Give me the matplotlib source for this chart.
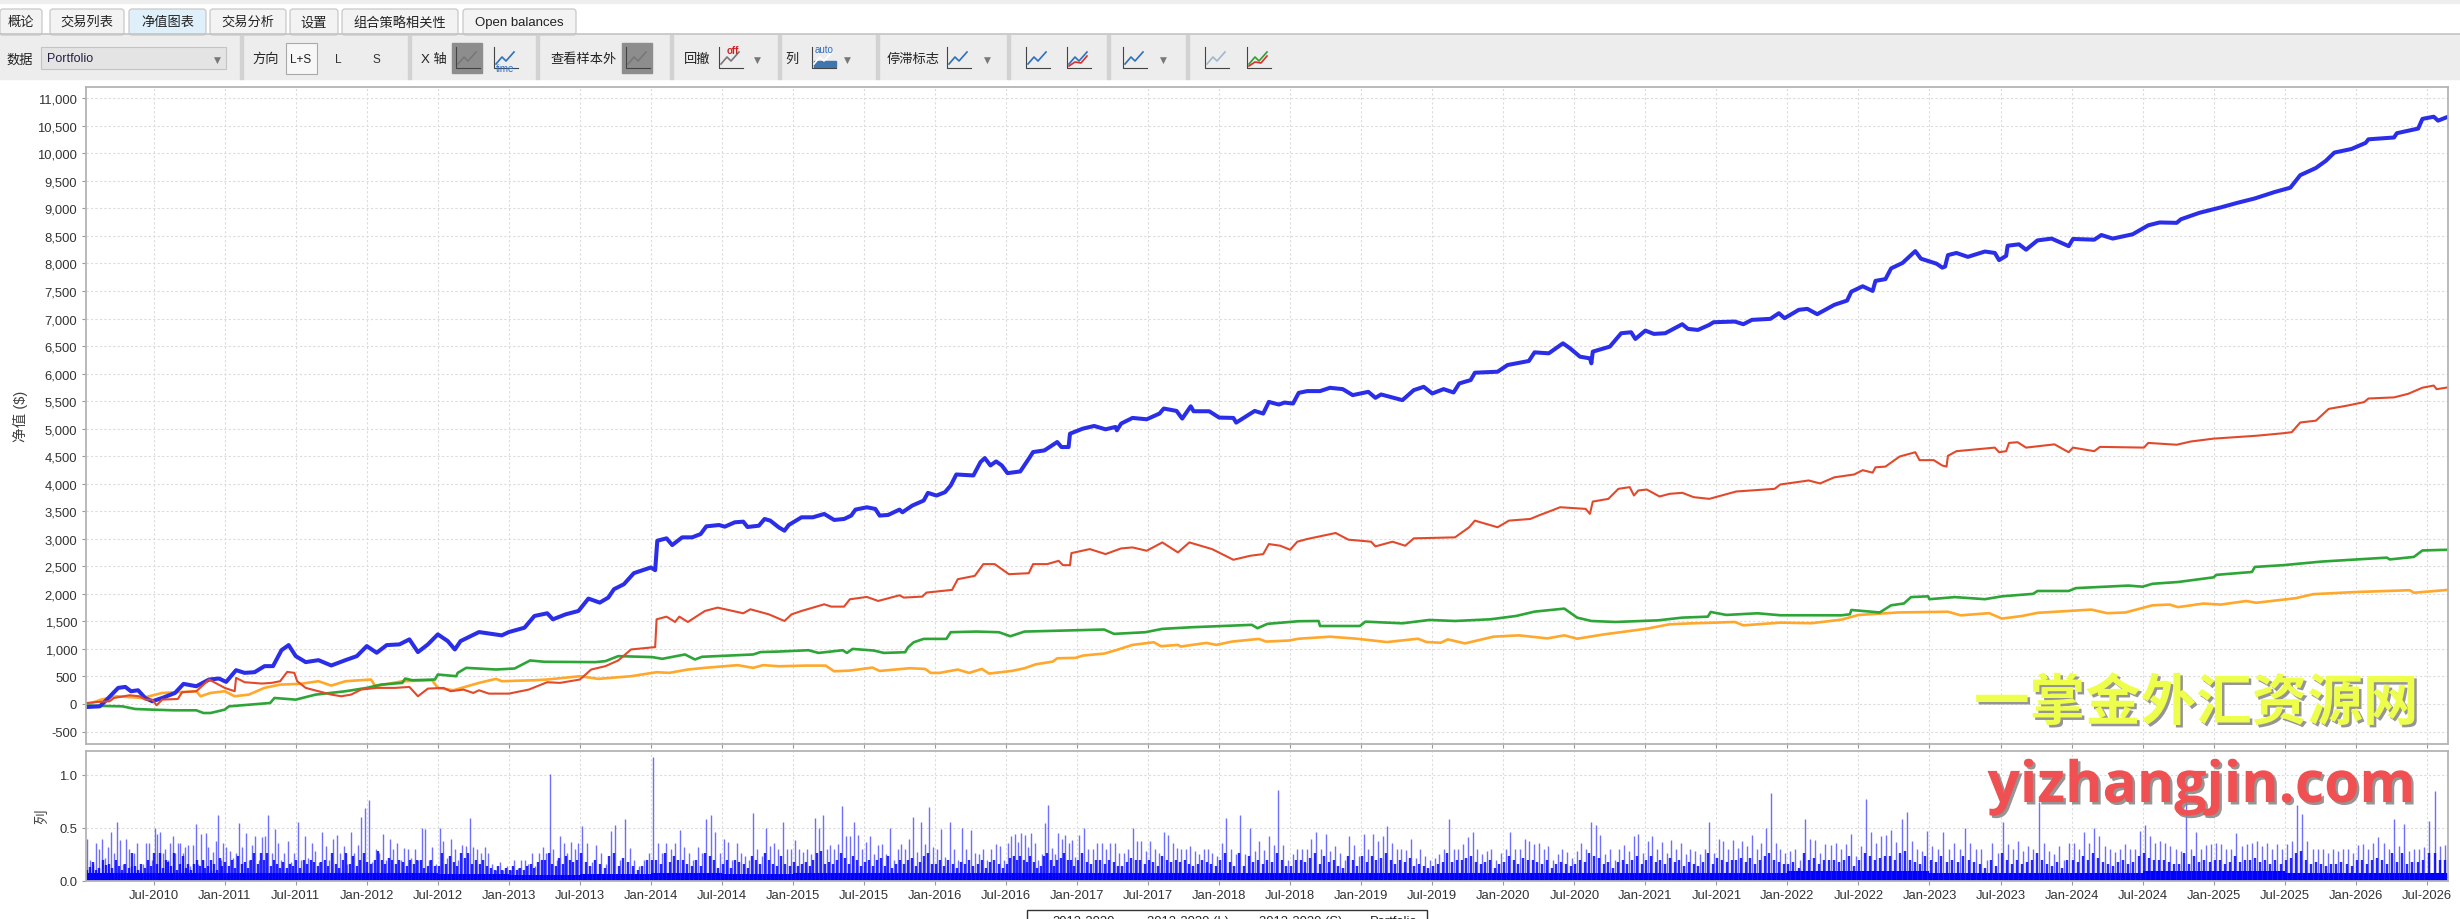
import matplotlib
matplotlib.use("Agg")
import matplotlib.pyplot as plt
import matplotlib.patheffects as pe
from matplotlib.patches import Rectangle, FancyBboxPatch
import numpy as np

plt.rcParams['font.family'] = ['Liberation Sans', 'Noto Sans CJK SC', 'DejaVu Sans']

# equity curves (year, $)
blue_x = [2010.03, 2010.12, 2010.17, 2010.25, 2010.30, 2010.34, 2010.39, 2010.44, 2010.49, 2010.56, 2010.65, 2010.71, 2010.80, 2010.89, 2010.96,
          2011.01, 2011.08, 2011.14, 2011.21, 2011.28, 2011.34, 2011.40, 2011.45, 2011.50, 2011.57, 2011.66, 2011.75, 2011.85, 2011.93,
          2012.00, 2012.07, 2012.14, 2012.23, 2012.30, 2012.36, 2012.43, 2012.50, 2012.57, 2012.62, 2012.66, 2012.79, 2012.95,
          2013.00, 2013.11, 2013.18, 2013.27, 2013.31, 2013.40, 2013.49, 2013.56, 2013.64, 2013.70, 2013.74, 2013.81, 2013.88,
          2014.00, 2014.03, 2014.045, 2014.11, 2014.15, 2014.22, 2014.29, 2014.35, 2014.39, 2014.48, 2014.52, 2014.59, 2014.65, 2014.68, 2014.76, 2014.80, 2014.84, 2014.90, 2014.94, 2014.97,
          2015.06, 2015.14, 2015.22, 2015.29, 2015.36, 2015.41, 2015.44, 2015.52, 2015.58, 2015.61, 2015.67, 2015.75, 2015.77, 2015.84, 2015.92, 2015.95,
          2016.01, 2016.07, 2016.11, 2016.15, 2016.27, 2016.32, 2016.35, 2016.39, 2016.43, 2016.47, 2016.51, 2016.60, 2016.66, 2016.69, 2016.77, 2016.86, 2016.89, 2016.94, 2016.95,
          2017.04, 2017.12, 2017.20, 2017.27, 2017.28, 2017.31, 2017.39, 2017.49, 2017.58, 2017.61, 2017.70, 2017.74, 2017.80, 2017.82, 2017.93,
          2018.00, 2018.10, 2018.12, 2018.25, 2018.31, 2018.35, 2018.42, 2018.46, 2018.52, 2018.56, 2018.62, 2018.71, 2018.78, 2018.87, 2018.94,
          2019.05, 2019.10, 2019.14, 2019.29, 2019.37, 2019.44, 2019.50, 2019.58, 2019.65, 2019.69, 2019.77, 2019.80, 2019.96,
          2020.03, 2020.18, 2020.22, 2020.32, 2020.42, 2020.47, 2020.54, 2020.61, 2020.62, 2020.63, 2020.75, 2020.83, 2020.90, 2020.93,
          2021.00, 2021.06, 2021.14, 2021.26, 2021.30, 2021.37, 2021.45, 2021.48, 2021.63, 2021.69, 2021.75, 2021.88, 2021.94, 2021.98,
          2022.08, 2022.14, 2022.21, 2022.33, 2022.42, 2022.45, 2022.53, 2022.60, 2022.62, 2022.69, 2022.73, 2022.81, 2022.90, 2022.94,
          2023.05, 2023.09, 2023.11, 2023.13, 2023.19, 2023.27, 2023.39, 2023.46, 2023.49, 2023.54, 2023.55, 2023.63, 2023.68, 2023.76, 2023.86, 2023.98,
          2024.01, 2024.16, 2024.21, 2024.29, 2024.43, 2024.54, 2024.62, 2024.74, 2024.77, 2024.90,
          2025.05, 2025.17, 2025.29, 2025.43, 2025.54, 2025.61, 2025.72, 2025.79, 2025.85, 2025.97,
          2026.07, 2026.09, 2026.27, 2026.29, 2026.44, 2026.47, 2026.55, 2026.58, 2026.65]
blue_y = [-55, -43, 79, 292, 310, 231, 249, 109, 49, 109, 200, 365, 322, 444, 462,
          401, 614, 565, 577, 687, 687, 978, 1069, 869, 760, 796, 699, 796, 869,
          1051, 930, 1069, 1082, 1173, 942, 1082, 1264, 1142, 990, 1142, 1306, 1246,
          1306, 1385, 1598, 1647, 1537, 1628, 1689, 1914, 1841, 1932, 2084, 2175, 2376,
          2479, 2430, 2965, 3008, 2886, 3026, 3026, 3086, 3226, 3250, 3220, 3299, 3311, 3214, 3238, 3360, 3330, 3208, 3147, 3250,
          3390, 3390, 3451, 3342, 3360, 3421, 3530, 3572, 3542, 3421, 3433, 3530, 3481, 3603, 3694, 3834,
          3785, 3846, 3967, 4168, 4150, 4393, 4466, 4332, 4405, 4332, 4192, 4223, 4454, 4575, 4605, 4757, 4666, 4666, 4909,
          5000, 5049, 4988, 5031, 4970, 5092, 5195, 5170, 5274, 5365, 5322, 5183, 5407, 5316, 5316,
          5201, 5195, 5110, 5322, 5274, 5486, 5438, 5474, 5456, 5650, 5682, 5682, 5742, 5718, 5609,
          5669, 5560, 5621, 5518, 5700, 5760, 5639, 5718, 5657, 5821, 5882, 6016, 6034,
          6156, 6229, 6386, 6368, 6550, 6459, 6307, 6277, 6186, 6399, 6490, 6733, 6751, 6629,
          6781, 6721, 6733, 6897, 6812, 6793, 6885, 6933, 6945, 6897, 6976, 6994, 7097, 7006,
          7158, 7176, 7079, 7249, 7326, 7488, 7586, 7501, 7684, 7716, 7911, 8009, 8224, 8087,
          7996, 7924, 7944, 8152, 8191, 8120, 8217, 8191, 8061, 8139, 8322, 8348, 8250, 8419, 8452, 8315,
          8445, 8432, 8517, 8452, 8530, 8693, 8745, 8738, 8803, 8920,
          9018, 9103, 9181, 9298, 9376, 9604, 9734, 9864, 10014, 10079,
          10190, 10255, 10288, 10366, 10450, 10626, 10665, 10594, 10665]

red_x = [2010.03, 2010.10, 2010.19, 2010.22, 2010.33, 2010.40, 2010.44, 2010.49, 2010.52, 2010.56, 2010.67, 2010.70, 2010.80, 2010.89,
         2011.00, 2011.07, 2011.08, 2011.14, 2011.26, 2011.33, 2011.39, 2011.44, 2011.49, 2011.51, 2011.57, 2011.66, 2011.75, 2011.82, 2011.89, 2011.96,
         2012.07, 2012.20, 2012.30, 2012.36, 2012.43, 2012.54, 2012.59, 2012.68, 2012.75, 2012.79, 2012.86,
         2013.00, 2013.14, 2013.27, 2013.36, 2013.50, 2013.58, 2013.68, 2013.77, 2013.86,
         2014.03, 2014.04, 2014.11, 2014.17, 2014.20, 2014.26, 2014.38, 2014.47, 2014.65, 2014.70, 2014.83, 2014.94, 2014.99,
         2015.06, 2015.22, 2015.27, 2015.36, 2015.40, 2015.52, 2015.60, 2015.75, 2015.78, 2015.91, 2015.94,
         2016.12, 2016.16, 2016.28, 2016.34, 2016.42, 2016.52, 2016.66, 2016.69, 2016.79, 2016.87, 2016.90, 2016.95, 2016.96,
         2017.09, 2017.20, 2017.31, 2017.39, 2017.49, 2017.60, 2017.71, 2017.79, 2017.95,
         2018.10, 2018.22, 2018.31, 2018.35, 2018.43, 2018.50, 2018.55, 2018.62, 2018.82, 2018.91,
         2019.07, 2019.10, 2019.22, 2019.31, 2019.37, 2019.66, 2019.76, 2019.80, 2019.96,
         2020.04, 2020.19, 2020.26, 2020.34, 2020.40, 2020.58, 2020.61, 2020.63, 2020.74, 2020.81, 2020.89, 2020.92, 2020.95,
         2021.01, 2021.10, 2021.17, 2021.26, 2021.34, 2021.45, 2021.64, 2021.91, 2021.95,
         2022.15, 2022.23, 2022.33, 2022.47, 2022.53, 2022.60, 2022.62, 2022.69, 2022.79, 2022.90, 2022.93,
         2023.03, 2023.09, 2023.12, 2023.13, 2023.19, 2023.46, 2023.49, 2023.54, 2023.56, 2023.62, 2023.68, 2023.88, 2023.98,
         2024.01, 2024.16, 2024.20, 2024.51, 2024.54, 2024.74, 2024.84,
         2025.00, 2025.30, 2025.49, 2025.55, 2025.61, 2025.72, 2025.81, 2025.94,
         2026.06, 2026.09, 2026.27, 2026.37, 2026.47, 2026.55, 2026.57, 2026.65]
red_y = [18, 36, 49, 109, 158, 140, 79, 79, -24, 79, 91, 213, 231, 444,
         292, 231, 474, 395, 371, 383, 413, 583, 565, 413, 292, 231, 170, 140, 170, 261,
         292, 292, 310, 140, 279, 292, 231, 261, 200, 249, 188,
         188, 261, 395, 383, 444, 626, 687, 790, 990,
         1033, 1537, 1586, 1489, 1586, 1489, 1689, 1750, 1647, 1720, 1628, 1507, 1628,
         1689, 1810, 1768, 1768, 1901, 1944, 1871, 1974, 1932, 1950, 2023,
         2072, 2266, 2327, 2540, 2540, 2357, 2375, 2540, 2540, 2600, 2521, 2521, 2740,
         2813, 2722, 2825, 2843, 2783, 2934, 2752, 2934, 2813,
         2619, 2692, 2722, 2904, 2874, 2801, 2947, 2996, 3105, 2984,
         2947, 2862, 2947, 2874, 3008, 3026, 3209, 3330, 3209,
         3330, 3360, 3434, 3512, 3573, 3543, 3452, 3676, 3725, 3907, 3938, 3786, 3877,
         3895, 3768, 3816, 3835, 3756, 3725, 3859, 3907, 3986,
         4059, 4005, 4116, 4168, 4246, 4201, 4298, 4311, 4494, 4572, 4428,
         4428, 4331, 4311, 4507, 4591, 4656, 4572, 4591, 4741, 4754, 4656, 4715, 4572,
         4656, 4591, 4669, 4656, 4741, 4708, 4767,
         4819, 4871, 4917, 4936, 5112, 5145, 5359, 5418,
         5483, 5548, 5568, 5633, 5744, 5783, 5717, 5750]

green_x = [2010.03, 2010.28, 2010.37, 2010.49, 2010.64, 2010.80, 2010.85, 2010.90,
           2011.00, 2011.03, 2011.32, 2011.35, 2011.50, 2011.64, 2011.85,
           2012.00, 2012.10, 2012.25, 2012.27, 2012.32, 2012.48, 2012.50, 2012.63, 2012.64, 2012.70, 2012.91,
           2013.04, 2013.15, 2013.25, 2013.61, 2013.68, 2013.77,
           2014.01, 2014.08, 2014.24, 2014.31, 2014.36, 2014.72, 2014.77, 2014.90,
           2015.11, 2015.18, 2015.35, 2015.38, 2015.42, 2015.57, 2015.64, 2015.79, 2015.81, 2015.85, 2015.92,
           2016.08, 2016.11, 2016.29, 2016.45, 2016.53, 2016.63,
           2017.19, 2017.26, 2017.48, 2017.60, 2017.81,
           2018.23, 2018.27, 2018.34, 2018.56, 2018.70, 2018.71, 2018.99,
           2019.03, 2019.29, 2019.48, 2019.66, 2019.91,
           2020.09, 2020.22, 2020.43, 2020.52, 2020.62, 2020.79,
           2021.09, 2021.26, 2021.44, 2021.46, 2021.57, 2021.79, 2021.95,
           2022.19, 2022.38, 2022.44, 2022.45, 2022.65, 2022.73, 2022.82, 2022.87, 2022.99,
           2023.00, 2023.18, 2023.39, 2023.51, 2023.73, 2023.76, 2023.98,
           2024.03, 2024.40, 2024.50, 2024.57, 2024.75,
           2025.00, 2025.02, 2025.27, 2025.29, 2025.49, 2025.76,
           2026.22, 2026.24, 2026.41, 2026.47, 2026.65]
green_y = [-30, -43, -91, -103, -115, -115, -164, -164,
           -103, -43, 18, 109, 79, 170, 231,
           292, 352, 383, 462, 431, 444, 535, 504, 565, 656, 626,
           644, 790, 766, 760, 778, 869,
           851, 820, 899, 808, 857, 899, 942, 952,
           976, 927, 976, 927, 1000, 970, 927, 940, 1030, 1121, 1182,
           1182, 1303, 1315, 1303, 1230, 1315,
           1352, 1273, 1303, 1364, 1394,
           1437, 1376, 1455, 1503, 1507, 1416, 1416,
           1495, 1465, 1526, 1507, 1538,
           1598, 1677, 1732, 1568, 1507, 1489,
           1519, 1568, 1586, 1671, 1617, 1647, 1611,
           1611, 1610, 1629, 1707, 1662, 1792, 1825, 1941, 1955,
           1903, 1941, 1903, 1955, 2000, 2052, 2052,
           2104, 2150, 2130, 2183, 2215,
           2300, 2345, 2397, 2489, 2521, 2586,
           2658, 2625, 2671, 2788, 2801]

orange_x = [2010.03, 2010.13, 2010.24, 2010.42, 2010.56, 2010.80, 2010.83, 2010.90,
            2011.00, 2011.07, 2011.17, 2011.28, 2011.39, 2011.53, 2011.66, 2011.75, 2011.85,
            2012.03, 2012.06, 2012.25, 2012.46, 2012.50, 2012.61, 2012.79, 2012.91, 2012.95,
            2013.18, 2013.27, 2013.50, 2013.63, 2013.86,
            2014.04, 2014.13, 2014.26, 2014.38, 2014.61, 2014.72, 2014.79, 2014.90,
            2015.09, 2015.23, 2015.29, 2015.40, 2015.56, 2015.61, 2015.82, 2015.93, 2015.97,
            2016.03, 2016.16, 2016.24, 2016.33, 2016.38, 2016.54, 2016.63, 2016.71, 2016.83, 2016.86, 2016.99,
            2017.04, 2017.19, 2017.28, 2017.39, 2017.54, 2017.59, 2017.71, 2017.73, 2017.91, 2017.98,
            2018.09, 2018.28, 2018.33, 2018.49, 2018.56, 2018.78, 2018.97,
            2019.18, 2019.40, 2019.46, 2019.56, 2019.61, 2019.73, 2019.93,
            2020.11, 2020.31, 2020.43, 2020.52, 2020.71,
            2021.01, 2021.17, 2021.33, 2021.49, 2021.63, 2021.69, 2021.95,
            2022.17, 2022.38, 2022.50, 2022.78,
            2023.13, 2023.22, 2023.42, 2023.51, 2023.65, 2023.76,
            2024.14, 2024.25, 2024.38, 2024.57, 2024.69, 2024.75, 2024.93,
            2025.05, 2025.23, 2025.30, 2025.58, 2025.70,
            2026.00, 2026.38, 2026.41, 2026.65]
orange_y = [-12, 79, 140, 109, 200, 231, 140, 200,
            231, 140, 170, 292, 352, 365, 413, 334, 413,
            444, 322, 413, 431, 292, 249, 383, 456, 413,
            431, 444, 504, 456, 504,
            577, 565, 626, 656, 705, 656, 705, 685,
            697, 697, 594, 606, 661, 600, 649, 637, 564,
            564, 625, 564, 637, 552, 600, 649, 721, 770, 830, 837,
            879, 915, 982, 1073, 1121, 1049, 1073, 1043, 1109, 1073,
            1133, 1182, 1133, 1152, 1185, 1222, 1185,
            1124, 1185, 1124, 1112, 1173, 1100, 1222,
            1246, 1191, 1246, 1185, 1264,
            1367, 1447, 1465, 1477, 1489, 1428, 1477,
            1467, 1531, 1616, 1662,
            1675, 1610, 1649, 1551, 1597, 1655,
            1714, 1649, 1662, 1792, 1805, 1759, 1824,
            1805, 1870, 1838, 1922, 1994,
            2033, 2066, 2020, 2072]

# lower panel: one row per half year starting Jan-2010
peak_rows = [
    [.14, .40, .20, .16, .36, .30, .40, .22, .32, .46, .26, .56, .39, .16, .40, .30, .14, .26, .36, .10, .16, .36, .36, .20],
    [.50, .44, .46, .26, .30, .20, .36, .42, .26, .36, .36, .26, .32, .34, .14, .34, .54, .16, .44, .20, .45, .32, .10, .27, .38, .62, .20, .36],
    [.32, .28, .22, .26, .55, .32, .45, .20, .34, .42, .20, .41, .42, .62, .26, .49, .36, .20, .26, .38, .18, .26],
    [.56, .20, .42, .22, .36, .28, .18, .46, .33, .20, .40, .43, .26, .33, .16, .46, .26, .34, .60, .69],
    [.76, .18, .30, .26, .44, .20, .40, .30, .36, .20, .31, .30, .22, .30, .20, .50, .49, .20, .32, .16],
    [.50, .38, .22, .40, .30, .20, .34, .33, .59, .32, .30, .26, .32, .26, .16, .10, .18, .10, .14],
    [.10, .20, .12, .20, .20, .16, .26, .14, .26, .32, .26, 1.01, .30, .20, .42, .36, .26, .37, .30, .36],
    [.52, .36, .18, .34, .26, .16, .47, .53, .20, .58, .31, .20, .14, .20, .26],
    [1.17, .36, .26, .36, .30, .36, .48, .32, .26, .20, .32, .26, .58, .62, .46, .26],
    [.40, .37, .20, .36, .26, .24, .20, .64, .30, .24, .50, .33, .36, .30, .56, .30, .30],
    [.39, .30, .27, .30, .25, .59, .50, .62, .30, .34, .30, .35, .71, .42, .42, .56, .43, .30],
    [.37, .42, .25, .34, .35, .25, .50, .20, .30, .35, .30, .40, .60, .27, .56, .35, .70, .32],
    [.30, .49, .23, .56, .30, .20, .50, .30, .48, .26, .25, .30, .20, .30, .35, .33, .20],
    [.36, .42, .44, .37, .45, .43, .32, .45, .36, .20, .25, .55, .72, .31, .25, .45, .40, .43, .36, .39, .23],
    [.43, .50, .30, .30, .36, .36, .30, .36, .36, .26, .26, .30, .50, .38, .38, .28],
    [.38, .30, .26, .46, .43, .36, .31, .30, .30, .33, .28, .25, .30, .30, .26, .24],
    [.36, .59, .30, .25, .62, .25, .50, .28, .38, .29, .42, .34, .86, .34, .20],
    [.25, .30, .30, .30, .40, .46, .30, .44, .28, .33, .26, .20, .42, .34, .24],
    [.44, .30, .44, .38, .42, .52, .36, .30, .30, .29, .40, .22, .30, .24, .20],
    [.22, .25, .30, .58, .30, .30, .35, .41, .46, .30, .25, .28, .30, .20, .26],
    [.30, .46, .30, .30, .40, .38, .35, .36, .30, .33, .20, .25, .30, .27, .22],
    [.28, .36, .30, .56, .53, .43, .25, .30, .20, .30, .34, .28, .42, .44, .26],
    [.38, .42, .30, .37, .26, .39, .30, .36, .25, .30, .28, .25, .30, .56, .26],
    [.40, .38, .30, .39, .31, .38, .33, .43, .30, .36, .50, .83, .36, .30, .26],
    [.28, .30, .20, .58, .40, .39, .26, .35, .34, .36, .30, .35, .44, .24],
    [.33, .77, .46, .36, .42, .43, .48, .37, .58, .65, .38, .30, .28, .47],
    [.33, .30, .46, .30, .36, .30, .50, .36, .30, .30, .20, .36, .26],
    [.56, .35, .30, .38, .28, .33, .30, .74, .36, .28, .25, .33, .20, .36],
    [.36, .30, .46, .36, .50, .42, .33, .30, .27, .30, .35, .30, .30, .47],
    [.53, .42, .36, .38, .36, .33, .30, .28, .85, .30, .46, .30, .34, .35],
    [.36, .35, .30, .30, .45, .33, .35, .36, .38, .33, .36, .30, .35, .30],
    [.35, .38, .72, .63, .38, .30, .30, .30, .26, .30, .28, .30, .30, .26],
    [.34, .35, .30, .36, .41, .36, .30, .58, .33, .54, .28, .30, .30, .32],
    [.57, .85, .33, .34],
]
mid_rows = [
    [.14, .10, .13, .18, .10, .12, .20, .15, .16, .12, .20, .14, .10, .16, .12, .26, .14, .10, .16, .12, .20, .14],
    [.26, .16, .26, .12, .20, .18, .14, .26, .10, .16, .24, .12, .16, .10, .16, .20, .14, .20, .12, .14, .20, .16, .10, .22, .14],
    [.18, .14, .20, .12, .24, .16, .18, .12, .20, .26, .16, .26, .20, .26, .14, .20, .16, .12, .18, .12, .16, .14],
    [.20, .12, .20, .16, .20, .18, .14, .18, .20, .14, .26, .16, .12, .20, .26, .16, .24, .14, .20, .26],
    [.18, .16, .20, .28, .20, .16, .22, .20, .16, .20, .18, .14, .20, .16, .20, .20, .12, .14, .20, .14],
    [.14, .26, .16, .24, .18, .14, .26, .22, .26, .16, .20, .16, .20, .14, .12, .10, .14, .10, .12],
    [.10, .14, .10, .12, .10, .14, .16, .12, .18, .20, .20, .26, .16, .14, .22, .16, .24, .20, .18, .20],
    [.26, .18, .14, .20, .16, .12, .24, .26, .14, .22, .18, .14, .10, .14, .20],
    [.20, .20, .16, .26, .18, .24, .20, .20, .16, .14, .20, .14, .26, .24, .20, .12],
    [.16, .20, .12, .20, .18, .16, .12, .24, .20, .16, .26, .20, .16, .14, .24, .16, .14],
    [.18, .14, .16, .18, .14, .20, .26, .28, .16, .18, .16, .20, .26, .22, .16, .24, .20, .14],
    [.18, .20, .14, .20, .22, .14, .24, .12, .16, .20, .16, .20, .22, .14, .18, .24, .26, .16],
    [.16, .20, .14, .20, .16, .12, .18, .16, .20, .14, .16, .20, .12, .18, .20, .16, .12],
    [.16, .22, .24, .20, .24, .20, .18, .24, .18, .12, .14, .24, .26, .20, .14, .20, .22, .26, .20, .20, .14],
    [.20, .26, .18, .16, .20, .20, .16, .20, .18, .14, .14, .18, .22, .20, .20, .16],
    [.20, .18, .14, .24, .20, .18, .20, .18, .20, .16, .14, .16, .20, .18, .16, .14],
    [.20, .26, .18, .14, .26, .14, .24, .18, .20, .16, .20, .18, .26, .20, .14],
    [.14, .20, .20, .18, .22, .26, .16, .24, .18, .20, .14, .12, .24, .20, .14],
    [.24, .18, .24, .20, .22, .26, .20, .16, .20, .18, .22, .14, .16, .14, .12],
    [.14, .16, .18, .26, .18, .20, .20, .22, .24, .18, .16, .18, .20, .12, .16],
    [.18, .24, .20, .16, .22, .20, .20, .18, .16, .20, .12, .16, .18, .16, .14],
    [.16, .20, .18, .26, .24, .22, .16, .18, .12, .18, .20, .16, .20, .24, .16],
    [.20, .24, .18, .20, .16, .22, .18, .20, .14, .18, .16, .14, .18, .26, .16],
    [.22, .20, .18, .20, .20, .22, .18, .22, .16, .20, .24, .26, .20, .18, .16],
    [.16, .18, .12, .26, .20, .22, .16, .20, .20, .20, .18, .20, .24, .14],
    [.20, .26, .24, .20, .22, .24, .24, .20, .26, .28, .20, .18, .16, .24],
    [.20, .18, .24, .18, .20, .18, .24, .20, .18, .16, .12, .20, .14],
    [.26, .20, .16, .20, .16, .18, .20, .26, .20, .16, .14, .18, .12, .20],
    [.20, .18, .24, .20, .26, .22, .18, .16, .14, .18, .20, .16, .18, .24],
    [.26, .22, .20, .20, .20, .18, .16, .16, .26, .16, .24, .18, .20, .18],
    [.20, .20, .16, .18, .24, .18, .20, .20, .22, .18, .20, .16, .20, .16],
    [.20, .22, .26, .28, .20, .16, .18, .16, .14, .16, .16, .18, .16, .14],
    [.20, .20, .16, .20, .22, .20, .16, .26, .18, .26, .16, .18, .18, .20],
    [.26, .26, .20, .20],
]
floor_rows = [.08, .08, .08, .08, .08, .07, .06, .07, .08, .07, .08, .08, .08, .08, .08, .08, .08, .08, .08, .08,
              .08, .08, .08, .08, .09, .09, .08, .08, .08, .09, .09, .08, .08, .08]

y_ticks = list(range(-500, 11001, 500))
lot_ticks = [0.0, 0.5, 1.0]
date_ticks = [2010.5 + 0.5 * i for i in range(33)]
date_labels = ['Jul-2010', 'Jan-2011', 'Jul-2011', 'Jan-2012', 'Jul-2012', 'Jan-2013', 'Jul-2013', 'Jan-2014', 'Jul-2014',
               'Jan-2015', 'Jul-2015', 'Jan-2016', 'Jul-2016', 'Jan-2017', 'Jul-2017', 'Jan-2018', 'Jul-2018', 'Jan-2019',
               'Jul-2019', 'Jan-2020', 'Jul-2020', 'Jan-2021', 'Jul-2021', 'Jan-2022', 'Jul-2022', 'Jan-2023', 'Jul-2023',
               'Jan-2024', 'Jul-2024', 'Jan-2025', 'Jul-2025', 'Jan-2026', 'Jul-2026']
legend_labels = ['2012-2020', '2012-2020 (L)', '2012-2020 (S)', 'Portfolio']

W, H = 2460, 920
fig = plt.figure(figsize=(W / 100, H / 100), dpi=100, facecolor='white')


def px_axes(left, top, right, bottom):
    return fig.add_axes([left / W, 1 - bottom / H, (right - left) / W, (bottom - top) / H])


def style_axes(ax):
    for s in ax.spines.values():
        s.set_color('#b4b4b4')
        s.set_linewidth(1.3)
    ax.grid(True, color='#dcdcdc', linestyle=(0, (2, 2)), linewidth=0.8)
    ax.set_axisbelow(True)
    ax.tick_params(colors='#333333', color='#999999', labelsize=9.4, length=3, width=0.8, pad=3)
    ax.set_xlim(2010.02, 2026.65)
    ax.set_xticks(date_ticks)


ax = px_axes(85.5, 88, 2448, 745)
style_axes(ax)
ax.set_ylim(-727, 11205)
ax.set_yticks(y_ticks)
ax.set_yticklabels([f"{v:,}" for v in y_ticks])
ax.tick_params(axis='x', labelbottom=False)
ax.plot(orange_x, orange_y, color='#ffa31f', linewidth=1.9, alpha=0.95)
ax.plot(green_x, green_y, color='#22a02c', linewidth=1.9, alpha=0.95)
ax.plot(blue_x, blue_y, color='#2a2ee8', linewidth=2.9)
ax.plot(red_x, red_y, color='#e2492b', linewidth=1.5)

ax2 = px_axes(85.5, 752, 2448, 882)
style_axes(ax2)
ax2.set_ylim(0, 1.225)
ax2.set_yticks(lot_ticks)
ax2.set_yticklabels([f"{v:.1f}" for v in lot_ticks])
ax2.set_xticklabels(date_labels)

for r, (peaks, mids) in enumerate(zip(peak_rows, mid_rows)):
    x0 = 2010 + r * 0.5
    px = x0 + (np.arange(len(peaks)) + 0.5) / len(peaks) * 0.5
    mx = x0 + (np.arange(len(mids)) + 0.2) / len(mids) * 0.5
    if r == len(peak_rows) - 1:
        px = x0 + (np.arange(len(peaks)) + 0.5) / len(peaks) * 0.15
        mx = px
    ax2.vlines(px, 0, peaks, color='#2020ff', linewidth=1.0, alpha=0.65)
    ax2.vlines(mx, 0, mids, color='#0000ff', linewidth=1.7, alpha=0.85)
floor_x = 2010 + np.arange(len(floor_rows) + 1) * 0.5
ax2.stairs(floor_rows, floor_x, fill=True, color='#0000f5')

# ylabels
fig.text(20 / W, 1 - 416 / H, '净值 ($)', rotation=90, ha='center', va='center', fontsize=10.5, color='#444444')
fig.text(42 / W, 1 - 817 / H, '列', rotation=90, ha='center', va='center', fontsize=10.5, color='#444444')

# overlay in pixel coords for toolbar, watermark and legend stub
ov = fig.add_axes([0, 0, 1, 1], zorder=10)
ov.set_xlim(0, W)
ov.set_ylim(H, 0)
ov.axis('off')
ov.patch.set_alpha(0)

ov.add_patch(Rectangle((0, 0), W, 4, color='#eeeeee'))
ov.add_patch(Rectangle((0, 35), W, 45, color='#ededed'))
ov.plot([0, W], [35, 35], color='#c4c4c4', linewidth=1.2)

tabs = [(0, 42, '概论'), (50, 124, '交易列表'), (129, 206, '净值图表'), (210, 286, '交易分析'),
        (290, 338, '设置'), (342, 458, '组合策略相关性'), (463, 576, 'Open balances')]
for i, (a, b, t) in enumerate(tabs):
    fc = '#dff0fb' if i == 2 else '#f3f3f3'
    ov.add_patch(FancyBboxPatch((a, 10), b - a, 26, boxstyle='round,pad=0,rounding_size=3',
                                facecolor=fc, edgecolor='#c8c8c8', linewidth=0.9))
    ov.text((a + b) / 2, 23, t, ha='center', va='center', fontsize=9.5, color='#222222')

for sx in [240, 408, 536, 670, 778, 876, 1007, 1107, 1186]:
    ov.add_patch(Rectangle((sx, 36), 3, 44, color='#d2d2d2'))

labels = [(20, '数据'), (266, '方向'), (434, 'X 轴'), (584, '查看样本外'), (697, '回撤'), (792, '列'), (913, '停滞标志')]
for lx, t in labels:
    ov.text(lx, 60, t, ha='center', va='center', fontsize=9.5, color='#222222')

ov.add_patch(Rectangle((41, 48), 185, 22, facecolor='#e4e4e4', edgecolor='#c4c4c4', linewidth=0.8))
ov.text(47, 59.5, 'Portfolio', ha='left', va='center', fontsize=9, color='#222244')
for ax_x in [217, 757, 847, 987, 1163]:
    ov.text(ax_x, 60, '▼', ha='center', va='center', fontsize=6.5, color='#777777', family='DejaVu Sans')

ov.add_patch(Rectangle((286, 44), 31, 31, facecolor='#f7f7f7', edgecolor='#aaaaaa', linewidth=0.8))
ov.text(301, 60, 'L+S', ha='center', va='center', fontsize=8.5, color='#222222')
ov.text(338, 60, 'L', ha='center', va='center', fontsize=8.5, color='#333333')
ov.text(376, 60, 'S', ha='center', va='center', fontsize=8.5, color='#333333')


def icon(x0, color='#2f6fc0', grey=False, extra=None):
    y0, y1 = 72, 48
    w = 26
    if grey:
        ov.add_patch(Rectangle((x0 - 2, 44), w + 4, 30, color='#8d8d8d'))
    ov.plot([x0 + 2, x0 + 2, x0 + w], [y1, y0 - 3, y0 - 3], color='#444444', linewidth=0.8)
    ov.plot([x0 + 4, x0 + 10, x0 + 14, x0 + 22], [y0 - 7, y0 - 14, y0 - 10, y0 - 19],
            color='#777777' if grey else color, linewidth=1.2)
    if extra:
        ov.plot([x0 + 4, x0 + 10, x0 + 16, x0 + 22], [y0 - 5, y0 - 9, y0 - 8, y0 - 15], color=extra, linewidth=1.2)


icon(454, grey=True)
icon(492)
ov.text(505, 69, 'time', ha='center', va='center', fontsize=7, color='#2f6fc0')
icon(624, grey=True)
icon(717, color='#777777')
ov.text(733, 51, 'off', ha='center', va='center', fontsize=7, color='#d02020', fontweight='bold')
icon(810, color='#ffffff')
ov.text(824, 50, 'auto', ha='center', va='center', fontsize=7, color='#2f6fc0')
ov.add_patch(Rectangle((814, 62), 22, 6, color='#3f76b0'))
icon(945)
icon(1024)
icon(1065, extra='#d83030')
icon(1121)
icon(1203, color='#9fb8d0')
icon(1245, color='#2f9f30', extra='#d83030')

# watermark
shadow = [pe.withSimplePatchShadow(offset=(1.8, -1.8), shadow_rgbFace='#8a8a8a', alpha=0.9)]
ov.text(2418, 705, '一掌金外汇资源网', ha='right', va='center', fontsize=40, color='#eeff4b', fontweight='bold',
        family=['Noto Sans CJK SC', 'DejaVu Sans'], path_effects=shadow)
ov.text(2416, 788, 'yizhangjin.com', ha='right', va='center', fontsize=41, color='#f05052', fontweight='bold',
        family='Open Sans', path_effects=shadow)

# legend box cut off by the image edge
ov.add_patch(Rectangle((1027, 911), 400, 20, facecolor='white', edgecolor='#333333', linewidth=1.0, clip_on=True))
for lx, t in zip([1084, 1188, 1301, 1394], legend_labels):
    ov.text(lx, 916, t, ha='center', va='top', fontsize=9.4, color='#222222')

fig.savefig('out.png', dpi=100)
